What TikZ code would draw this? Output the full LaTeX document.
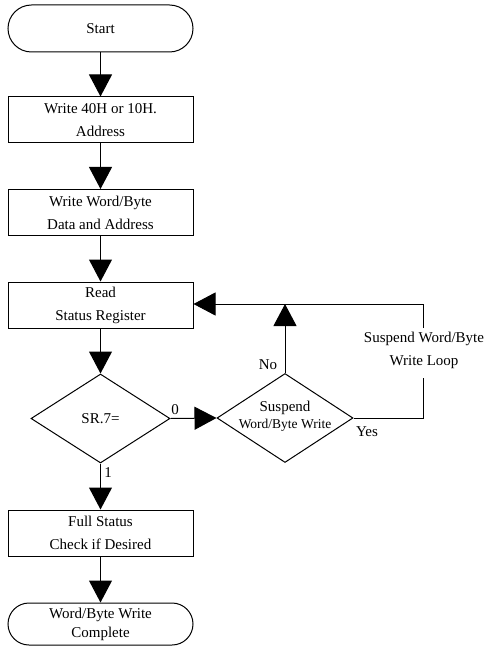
\documentclass[tikz,border=0pt]{standalone}
\usepackage{fontspec}
\setmainfont{Liberation Serif}
\usetikzlibrary{arrows.meta,shapes.geometric,shapes.misc}
\tikzset{every picture/.append style={x=1pt,y=-1pt}}
\tikzset{txt/.style={font=\fontsize{15}{23}\selectfont, align=center}}
\tikzset{terminal/.style={rounded rectangle, draw, line width=1pt, minimum width=185pt, minimum height=#1, inner sep=0pt, txt}}
\tikzset{terminal/.default=47pt}
\tikzset{stepbox/.style={rectangle, draw, line width=1pt, minimum width=185pt, minimum height=46pt, inner sep=0pt, txt}}
\tikzset{decision/.style={diamond, draw, line width=1pt, minimum width=#1, minimum height=89pt, inner sep=0pt}}
\tikzset{flow/.style={line width=1pt, -{Triangle[length=22pt,width=23pt]}}}
\tikzset{line/.style={line width=1pt}}

\begin{document}
\begin{tikzpicture}
  \useasboundingbox (0,0) rectangle (487,647);
  \node (start) at (100.5,28.5)[terminal]{Start};
  \node (wr40) at (100.5,120)[stepbox]{Write 40H or 10H.\\Address};
  \node (wrdata) at (100.5,212.5)[stepbox]{Write Word/Byte\\Data and Address};
  \node (read) at (100.5,305)[stepbox]{Read\\Status Register};
  \node (sr) at (100.5,418.5)[decision=139pt]{};
  \node (srtext) at (sr)[txt]{SR.7=};
  \node (susp) at (285,418)[decision=136pt]{};
  \node (susptext) at (285,416)[txt]{Suspend\\[-6pt]{\fontsize{13.5}{16}\selectfont Word/Byte Write}};
  \node (full) at (100.5,533)[stepbox]{Full Status\\Check if Desired};
  \node (done) at (100.5,624)[terminal=42pt]{Word/Byte Write\\[-4pt]Complete};
%   loop back to the status read
  \node (loopnote) at (424,350)[txt]{Suspend Word/Byte\\Write Loop};
  \coordinate (looptop) at (423,304);
  \coordinate (loopa) at (423,328);
  \coordinate (loopb) at (423,378);

  \draw[flow] (start) -- (wr40);
  \draw[flow] (wr40) -- (wrdata);
  \draw[flow] (wrdata) -- (read);
  \draw[flow] (read) -- (sr.north);
  \draw[flow] (sr.east) -- (susp.west) node [pos=0.1, above, txt] {0};
  \draw[flow] (sr.south) -- (full) node [pos=0.2, right, txt] {1};
  \draw[flow] (full) -- (done);
  \draw[flow] (susp.north) -- (susp.north |- looptop) node [pos=0.12, left, xshift=-4pt, txt] {No};
  \draw[line] (susp.east) -| (loopb);
  \draw[flow] (loopa) -- (looptop) -- (read.east |- looptop);
  \node (yes) at (367,432)[txt]{Yes};
  \end{tikzpicture}
\end{document}
